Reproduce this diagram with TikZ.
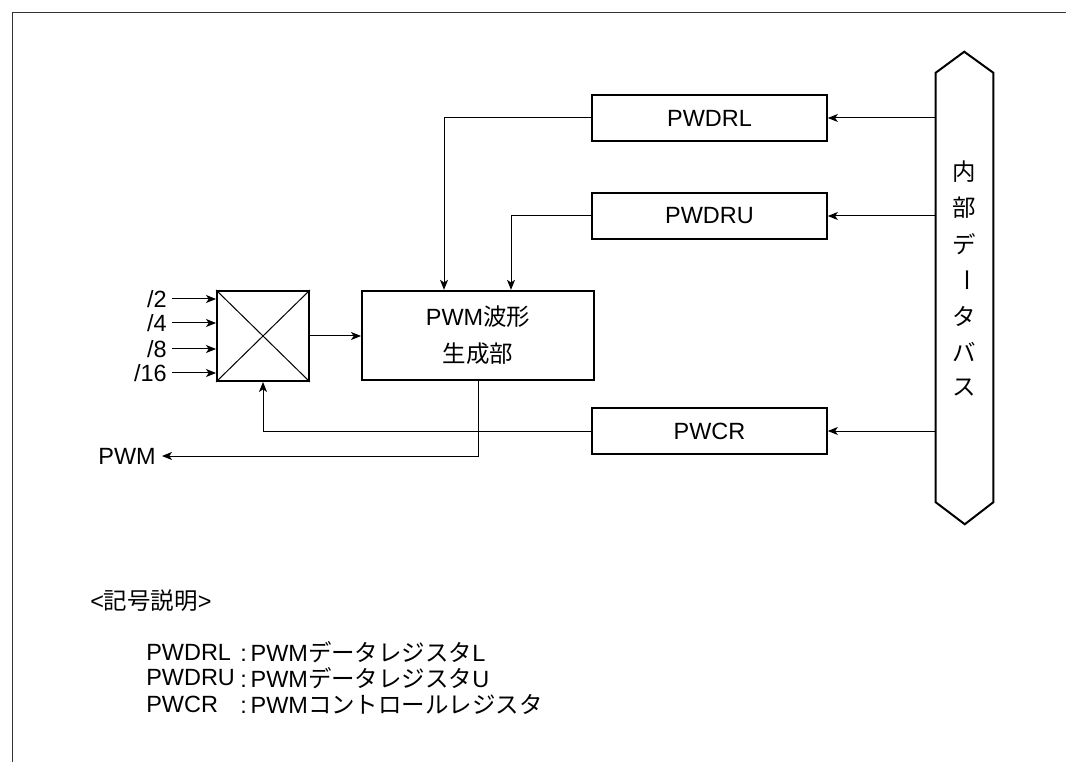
\documentclass[tikz,border=0pt]{standalone}
\usepackage{fontspec}
\setmainfont{Liberation Sans}
\newfontfamily\cjk{Noto Sans CJK JP}
\usetikzlibrary{arrows.meta, positioning, calc}

\begin{document}
\begin{tikzpicture}[x=0.75pt, y=-0.75pt,
  font=\fontsize{17.6}{20}\selectfont,
  reg/.style={rectangle, draw, line width=1.5pt, minimum width=176pt,
    minimum height=34.5pt, inner sep=0pt},
  sig/.style={-{Stealth[length=7.5pt, width=6pt, inset=2pt]}, line width=0.75pt},
  lbl/.style={inner sep=0pt}
]
  \useasboundingbox (0,0) rectangle (1066,762);
  % frame
  \draw[line width=0.75pt, black!80] (12,762) -- (12,13) -- (1066,13);

  % Registers
  \node[reg] (pwdrl) at (709.5,118) {PWDRL};
  \node[reg] (pwdru) at (709.5,216) {PWDRU};
  \node[reg] (pwcr)  at (709.5,431) {PWCR};

  % Internal data bus
  \node[minimum width=42.75pt, minimum height=321.75pt, inner sep=0pt] (bus) at (964.5,287.5) {};
  \draw[line width=1.5pt] (bus.north west) -- ++(28.5,-21) -- (bus.north east)
    -- (bus.south east) -- ++(-28.5,22) -- (bus.south west) -- cycle;
  \foreach \c [count=\i] in {内,部,デ,{\rotatebox[origin=c]{-90}{ー}},タ,バ,ス}
    \node[lbl, font=\fontsize{17.6}{20}\selectfont\cjk] (bus\i) at (964,136+36*\i) {\c};

  % Selector and PWM generator
  \node[rectangle, draw, line width=1.5pt, minimum width=69pt, minimum height=67.5pt,
    inner sep=0pt] (mux) at (263,336) {};
  \draw[line width=0.75pt] (mux.north west) -- (mux.south east)
    (mux.north east) -- (mux.south west);
  \node[rectangle, draw, line width=1.5pt, minimum width=174pt, minimum height=67pt,
    align=center, font=\fontsize{17.6}{27.75}\selectfont] (gen) at (478,335.5)
    {PWM{\cjk 波形}\\{\cjk 生成部}};

  % Clock inputs
  \foreach \d/\y [count=\i] in {2/299,4/323,8/349,16/373} {
    \node[anchor=east, inner sep=3.75pt] (in\i) at (172,\y) {/\d};
    \draw[sig] (in\i.east) -- (mux.west |- in\i.east);
  }
  \node[anchor=east, inner sep=4.5pt] (pwmout) at (162,456) {PWM};

  % Connections
  \draw[sig] (mux.east) -- (gen.west |- mux.east);
  \draw[sig] (pwdrl.west) -| ([xshift=-25.5pt]gen.north);
  \draw[sig] (pwdru.west) -| ([xshift=24.75pt]gen.north);
  \draw[sig] (pwcr.west) -| (mux.south);
  \draw[sig] (gen.south) |- (pwmout.east);
  \draw[sig] (bus.west |- pwdrl.east) -- (pwdrl.east);
  \draw[sig] (bus.west |- pwdru.east) -- (pwdru.east);
  \draw[sig] (bus.west |- pwcr.east) -- (pwcr.east);

  % Legend
  \node[lbl, anchor=west] (legtitle) at (90,601) {<{\cjk 記号説明}>};
  \node[lbl, anchor=west] (key1) at (146,652) {PWDRL};
  \node[lbl, anchor=west] (desc1) at (240,652) {:\,PWM{\cjk データレジスタ}L};
  \node[lbl, anchor=west] (key2) at (146,678) {PWDRU};
  \node[lbl, anchor=west] (desc2) at (240,678) {:\,PWM{\cjk データレジスタ}U};
  \node[lbl, anchor=west] (key3) at (146,704) {PWCR};
  \node[lbl, anchor=west] (desc3) at (240,704) {:\,PWM{\cjk コントロールレジスタ}};
\end{tikzpicture}
\end{document}
